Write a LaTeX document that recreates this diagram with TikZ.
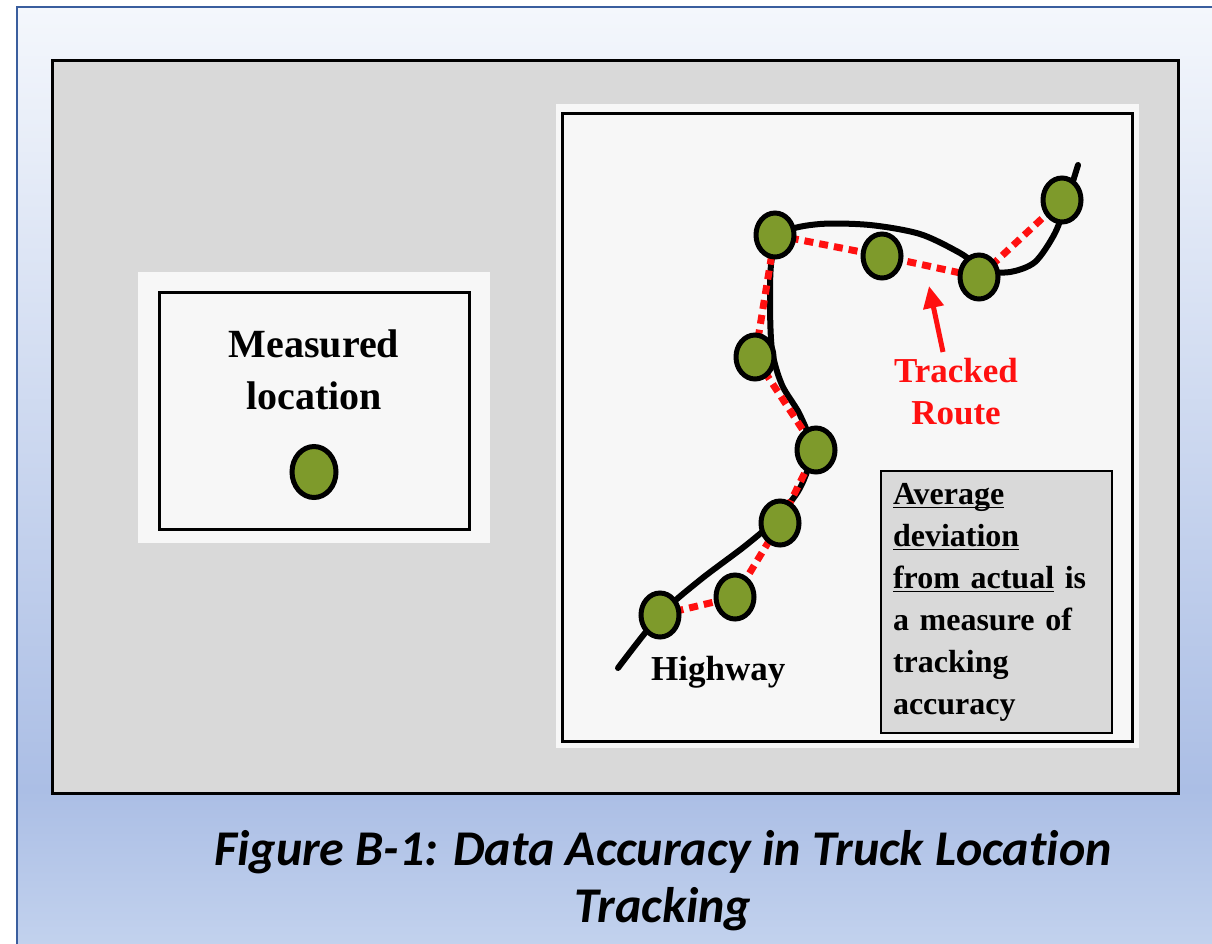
\documentclass[tikz,border=0pt]{standalone}
\usepackage{fontspec}
\usepackage{calc}
\setmainfont{Liberation Serif}
\newfontfamily\capfont[Ligatures = NoCommon]{Carlito}
\usetikzlibrary{shapes.geometric,arrows.meta}

\definecolor{frameblue}{HTML}{3A5E9E}
\definecolor{bgtop}{HTML}{F4F7FC}
\definecolor{bgmid}{HTML}{ABBEE5}
\definecolor{bgbot}{HTML}{C6D5EF}
\definecolor{panelgray}{HTML}{D9D9D9}
\definecolor{paper}{HTML}{F7F7F7}
\definecolor{olive}{HTML}{7E9A2B}
\definecolor{routered}{HTML}{FF1010}

\newcommand{\undl}[1]{\leavevmode\rlap{\rule[-4pt]{\widthof{#1}}{1.5pt}}#1}

\begin{document}
\begin{tikzpicture}[
  x = 1pt, y = -1pt,
  dot/.style = {
    shape = ellipse,
    draw = black,
    fill = olive,
    line width = 5pt,
    minimum width = 38pt,
    minimum height = 44pt,
    inner sep = 0pt,
  },
  bigdot/.style = {
    dot,
    minimum width = 44pt,
    minimum height = 51pt
  },
  highway/.style = {
    line width = 6pt,
    line cap = round
  },
  tracked/.style = {
    routered,
    line width = 7pt,
    dash pattern = on 9pt off 6pt
  },
  pointer/.style = {
    routered,
    line width = 5pt,
    -{Triangle[length = 22pt, width = 20pt]}
  },
  bodytext/.style = {
    font = \bfseries\fontsize{35}{42}\selectfont,
    inner sep = 0pt
  },
  notebox/.style = {
    draw = black,
    fill = panelgray,
    line width = 2pt,
    anchor = north west,
    minimum width = 231pt,
    minimum height = 262pt,
    text width = 207pt,
    inner xsep = 12pt,
    align = left,
    font = \bfseries\fontsize{32}{42}\selectfont
  }
]
  \clip (0,0) rectangle (1212,943);

  \shade[top color = bgtop, bottom color = bgmid] (17,7) rectangle (1240,790);
  \shade[top color = bgmid, bottom color = bgbot] (17,790) rectangle (1240,970);
  \draw[frameblue, line width = 2.5pt] (17,7) rectangle (1240,970);

  \draw[fill = panelgray, line width = 3pt] (52,60) rectangle (1178,793);

  \fill[paper] (138,272) rectangle (490,543);
  \draw[line width = 3pt] (159,292) rectangle (469,529);
  \node[bodytext, font = \bfseries\fontsize{40}{52}\selectfont, align = center]
    (meas) at (314,370) {Measured\\location};
  \node[bigdot] (legdot) at (314,472) {};

  \fill[paper] (556,104) rectangle (1139,748);
  \draw[line width = 3pt] (562,113) rectangle (1132,741);

  \coordinate (p1) at (660,615);
  \coordinate (p2) at (735,597);
  \coordinate (p3) at (780,523);
  \coordinate (p4) at (816,450);
  \coordinate (p5) at (755,357);
  \coordinate (p6) at (775,235);
  \coordinate (p7) at (882,256);
  \coordinate (p8) at (979,277);
  \coordinate (p9) at (1062,200);

  \draw[highway] plot[smooth] coordinates {
    (618,668) (660,615) (700,580) (745,546) (775,520) (800,488) (812,450)
    (800,415) (782,385) (772,350) (770,300) (772,258) (785,232) (820,224)
    (870,225) (920,234) (960,253) (985,270) (1010,272) (1035,262)
    (1055,233) (1067,200) (1078,165)};

  \draw[tracked] (p1) -- (p2) -- (p3) -- (p4) -- (p5) -- (p6) -- (p7) -- (p8) -- (p9);

  \foreach \i in {1,...,9}
    \node[dot] (d\i) at (p\i) {};

  \node[bodytext, anchor = base west] (hwy) at (651,680) {Highway};

  \node[bodytext, routered, align = center] (trk) at (956,392) {Tracked\\Route};
  \coordinate (aimtail) at (943,352);
  \coordinate (aim) at (929,286);
  \draw[pointer] (aimtail) -- (aim);

  \node[notebox] (avg) at (880,470)
    {\undl{Average}\\\undl{deviation}\\\undl{from actual} is\\a measure of\\tracking\\accuracy};

  \node[font = \capfont\bfseries\itshape\fontsize{50}{57}\selectfont, align = center]
    (cap) at (663,881) {Figure B-1: Data Accuracy in Truck Location\\Tracking};
\end{tikzpicture}
\end{document}
